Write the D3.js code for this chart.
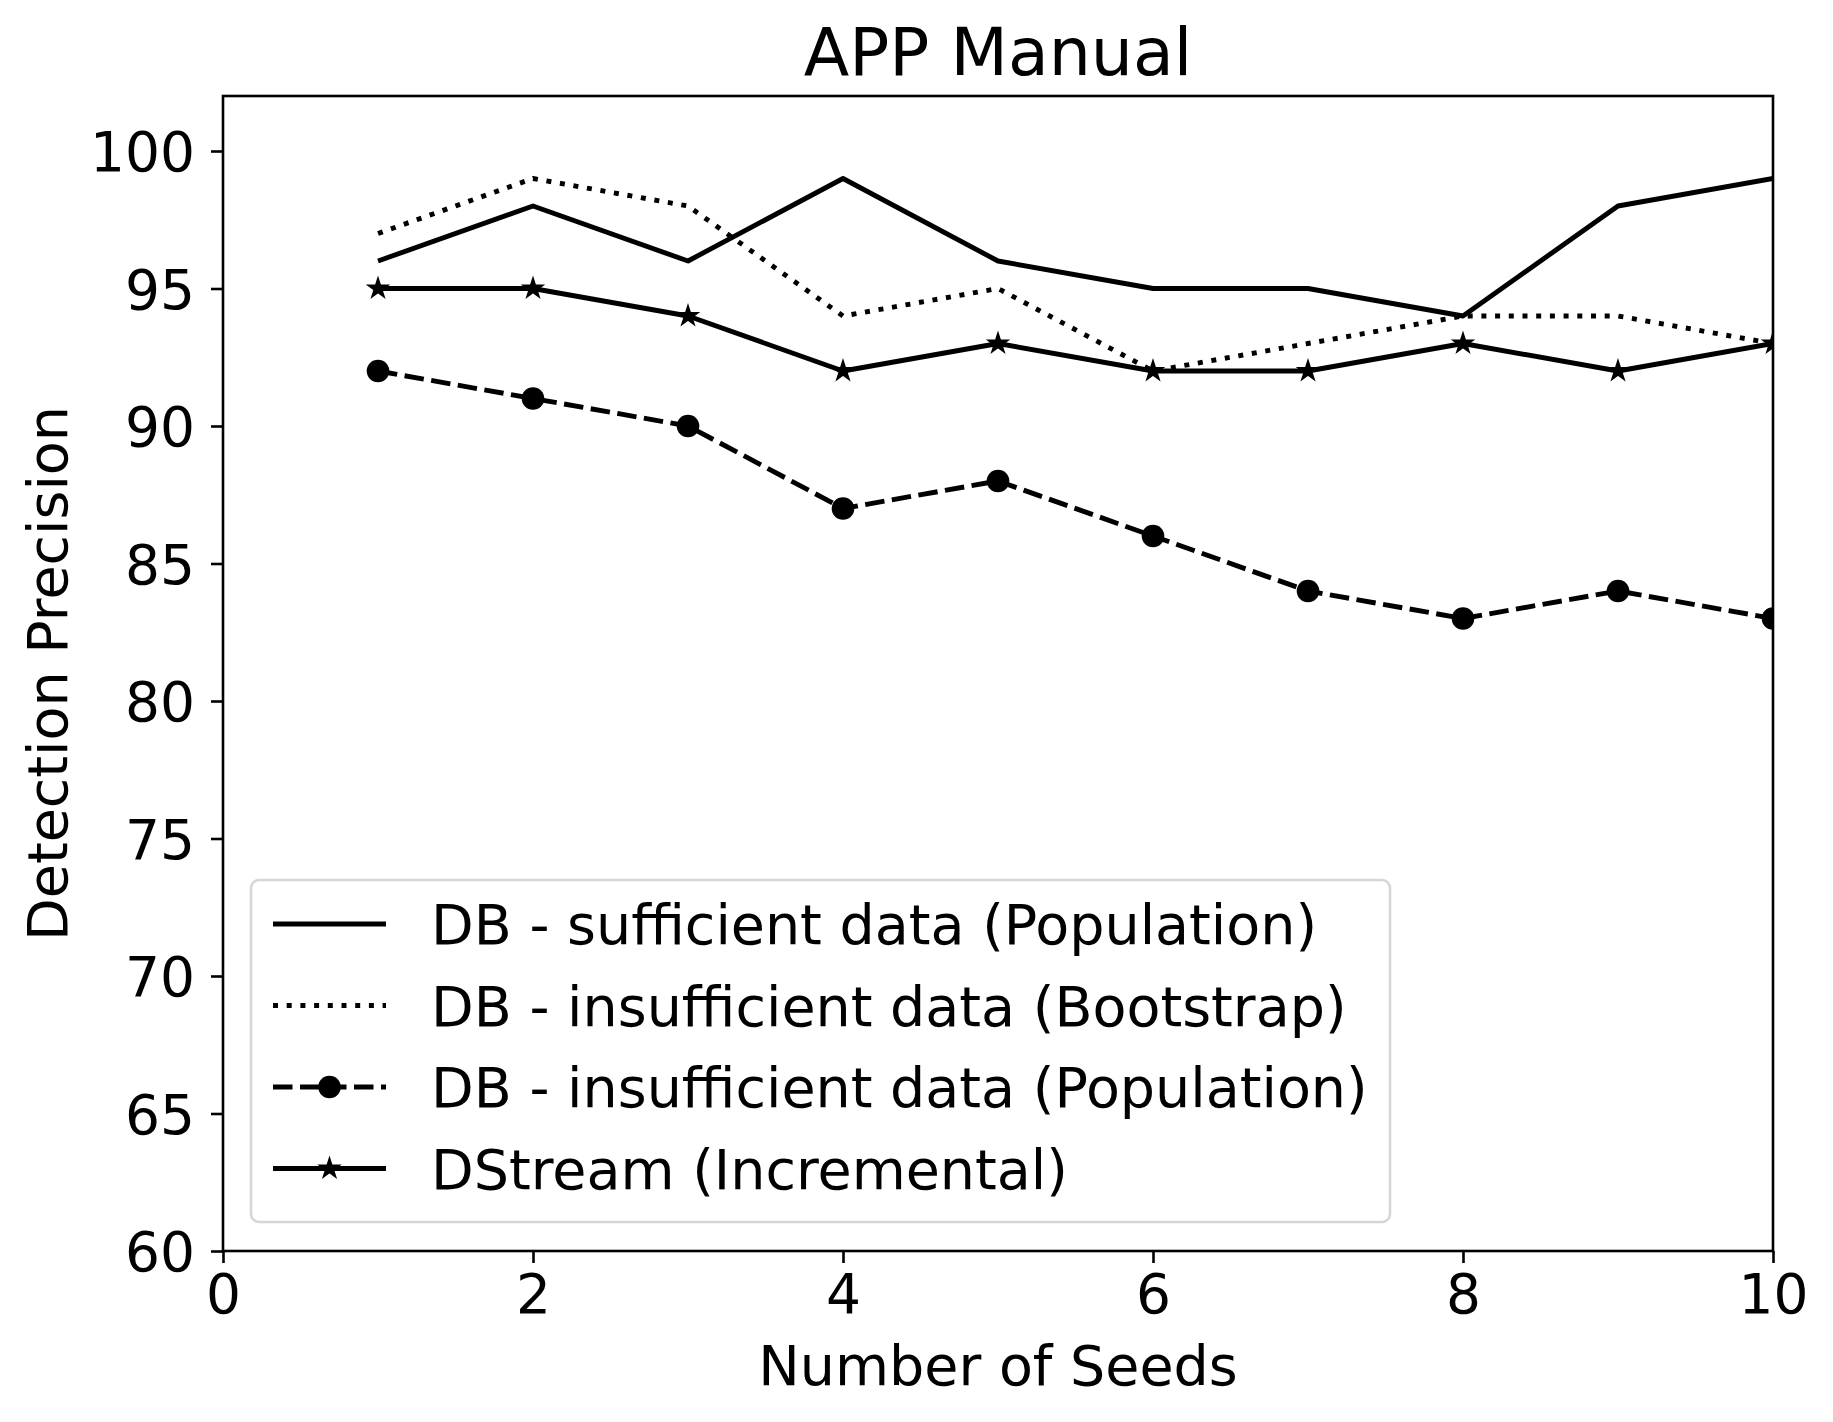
<!DOCTYPE html>
<html>
<head>
<meta charset="utf-8">
<script src="https://cdn.jsdelivr.net/npm/d3@7"></script>
<style>
  body { margin: 0; background: #fff; }
  text { font-family: "DejaVu Sans", sans-serif; fill: #000; }
</style>
</head>
<body>
<div id="chart"></div>
<script>
// data
var seeds = [1, 2, 3, 4, 5, 6, 7, 8, 9, 10];
var sufficientPop = [96, 98, 96, 99, 96, 95, 95, 94, 98, 99];
var insufficientBoot = [97, 99, 98, 94, 95, 92, 93, 94, 94, 93];
var insufficientPop = [92, 91, 90, 87, 88, 86, 84, 83, 84, 83];
var dstream = [95, 95, 94, 92, 93, 92, 92, 93, 92, 93];
var xTicks = [0, 2, 4, 6, 8, 10];
var yTicks = [60, 65, 70, 75, 80, 85, 90, 95, 100];

var series = [
  {name: "DB - sufficient data (Population)", values: sufficientPop, dash: null, marker: null},
  {name: "DB - insufficient data (Bootstrap)", values: insufficientBoot, dash: "5,8.7", marker: null},
  {name: "DB - insufficient data (Population)", values: insufficientPop, dash: "19.5,7.5", marker: "circle"},
  {name: "DStream (Incremental)", values: dstream, dash: null, marker: "star"}
];

var width = 1833, height = 1422;
var margin = {left: 223, right: 60, top: 96, bottom: 171};
var lw = 4.9;

var svg = d3.select("#chart").append("svg")
    .attr("width", width)
    .attr("height", height);

var x = d3.scaleLinear().domain([0, 10]).range([margin.left, width - margin.right]);
var y = d3.scaleLinear().domain([60, 102]).range([height - margin.bottom, margin.top]);

svg.append("clipPath").attr("id", "plotclip")
  .append("rect")
    .attr("x", x(0)).attr("y", y(102))
    .attr("width", x(10) - x(0)).attr("height", y(60) - y(102));

// axes
var xAxis = svg.append("g")
    .attr("transform", "translate(0," + y(60) + ")")
    .call(d3.axisBottom(x).tickValues(xTicks).tickSize(12).tickPadding(10).tickFormat(d3.format("d")));
var yAxis = svg.append("g")
    .attr("transform", "translate(" + x(0) + ",0)")
    .call(d3.axisLeft(y).tickValues(yTicks).tickSize(12).tickPadding(16).tickFormat(d3.format("d")));

[xAxis, yAxis].forEach(function(a) {
  a.select(".domain").remove();
  a.selectAll(".tick line").attr("stroke", "#000").attr("stroke-width", 2.6);
  a.selectAll(".tick text").style("font-size", "55px").attr("fill", "#000");
});
xAxis.selectAll(".tick text").attr("dy", "0.72em");
yAxis.selectAll(".tick text").attr("dy", "0.36em");

var g = svg.append("g").attr("clip-path", "url(#plotclip)");

var line = d3.line()
    .x(function(d, i) { return x(seeds[i]); })
    .y(function(d) { return y(d); });

var star = d3.symbol().type(d3.symbolStar).size(105);

series.forEach(function(s) {
  g.append("path")
    .attr("d", line(s.values))
    .attr("fill", "none")
    .attr("stroke", "#000")
    .attr("stroke-width", lw)
    .attr("stroke-linejoin", "round")
    .attr("stroke-dasharray", s.dash);

  if (s.marker === "circle") {
    g.selectAll(null).data(s.values).enter().append("circle")
      .attr("cx", function(d, i) { return x(seeds[i]); })
      .attr("cy", function(d) { return y(d); })
      .attr("r", 11.3)
      .attr("fill", "#000");
  }
  if (s.marker === "star") {
    g.selectAll(null).data(s.values).enter().append("path")
      .attr("d", star)
      .attr("transform", function(d, i) { return "translate(" + x(seeds[i]) + "," + y(d) + ")"; })
      .attr("fill", "#000")
      .attr("stroke", "#000")
      .attr("stroke-width", 2);
  }
});

// frame
svg.append("rect")
    .attr("x", x(0)).attr("y", y(102))
    .attr("width", x(10) - x(0)).attr("height", y(60) - y(102))
    .attr("fill", "none")
    .attr("stroke", "#000")
    .attr("stroke-width", 2.6);

// titles
svg.append("text")
    .attr("x", (x(0) + x(10)) / 2).attr("y", 75)
    .attr("text-anchor", "middle")
    .style("font-size", "66.5px")
    .text("APP Manual");

svg.append("text")
    .attr("x", (x(0) + x(10)) / 2).attr("y", 1385)
    .attr("text-anchor", "middle")
    .style("font-size", "55.5px")
    .text("Number of Seeds");

svg.append("text")
    .attr("transform", "translate(67," + (y(60) + y(102)) / 2 + ") rotate(-90)")
    .attr("text-anchor", "middle")
    .style("font-size", "55.5px")
    .text("Detection Precision");

// legend
var leg = svg.append("g");
leg.append("rect")
    .attr("x", 251).attr("y", 880)
    .attr("width", 1139).attr("height", 342)
    .attr("rx", 8)
    .attr("fill", "#fff")
    .attr("fill-opacity", 0.8)
    .attr("stroke", "#d6d6d6")
    .attr("stroke-width", 2.6);

series.forEach(function(s, i) {
  var cy = 924 + i * 81.5;
  var row = leg.append("g");
  row.append("line")
    .attr("x1", 273).attr("x2", 386)
    .attr("y1", cy).attr("y2", cy)
    .attr("stroke", "#000")
    .attr("stroke-width", lw)
    .attr("stroke-dasharray", s.dash);
  if (s.marker === "circle") {
    row.append("circle").attr("cx", 329.5).attr("cy", cy).attr("r", 11.3).attr("fill", "#000");
  }
  if (s.marker === "star") {
    row.append("path").attr("d", star)
      .attr("transform", "translate(329.5," + cy + ")")
      .attr("fill", "#000").attr("stroke", "#000").attr("stroke-width", 2);
  }
  row.append("text")
    .attr("x", 431).attr("y", cy + 20)
    .style("font-size", "55.5px")
    .text(s.name);
});
</script>
</body>
</html>
